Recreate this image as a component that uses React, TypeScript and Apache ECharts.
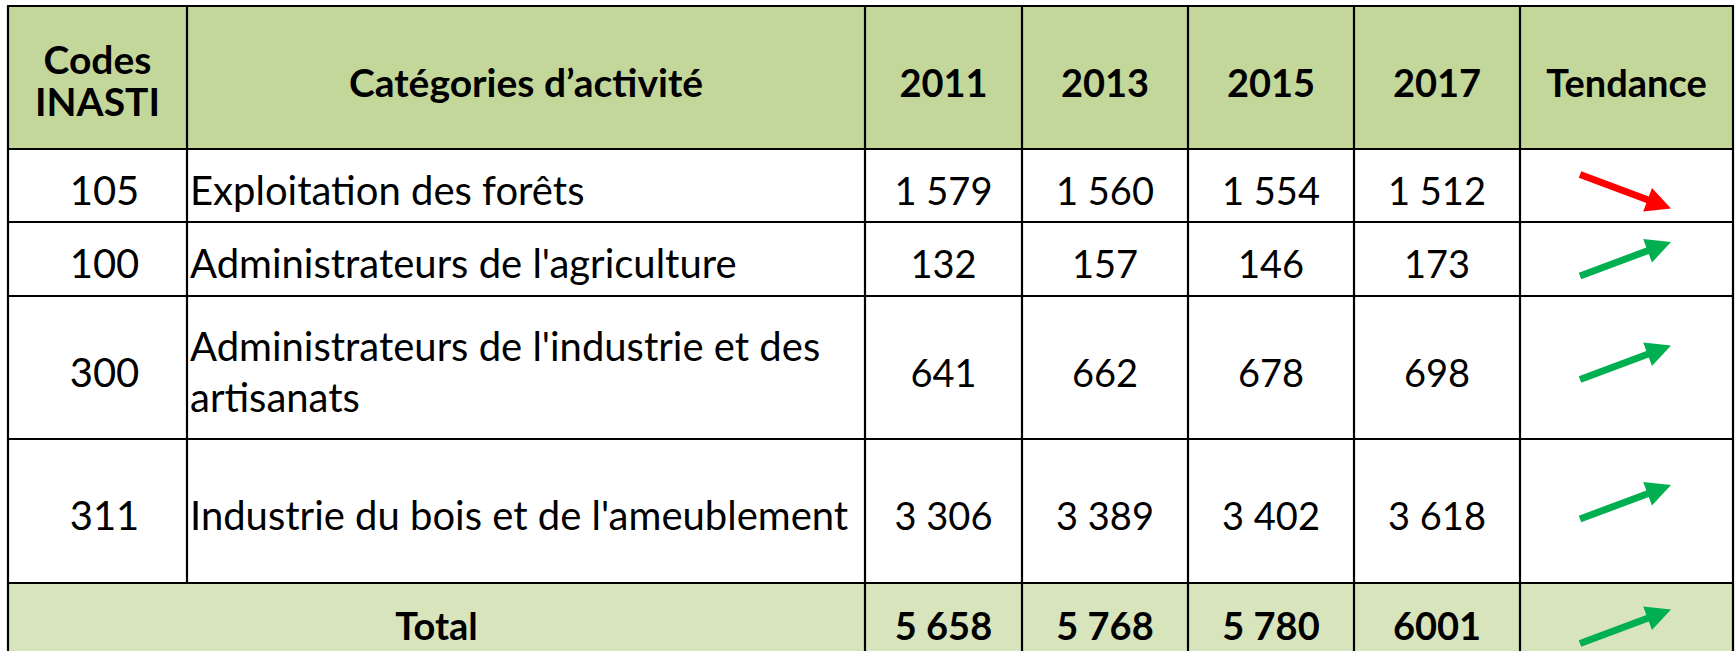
import React, { useEffect, useRef } from "react";
import * as echarts from "echarts";

// ---------- DATA ----------
const headerCode = ["Codes", "INASTI"];
const headerCategory = "Catégories d’activité";
const years = ["2011", "2013", "2015", "2017"];
const headerTrend = "Tendance";
const codes = ["105", "100", "300", "311"];
const categories = [
  "Exploitation des forêts",
  "Administrateurs de l'agriculture",
  "Administrateurs de l'industrie et des artisanats",
  "Industrie du bois et de l'ameublement",
];
const values2011 = [1579, 132, 641, 3306];
const values2013 = [1560, 157, 662, 3389];
const values2015 = [1554, 146, 678, 3402];
const values2017 = [1512, 173, 698, 3618];
const totalLabel = "Total";
const totals = [5658, 5768, 5780, 6001];
// the source prints the last total without a thousands separator
const ungroupedTotalYears = ["2017"];

// ---------- LAYOUT / STYLE ----------
const W = 1735;
const H = 651;
const colX = [8, 187, 865, 1022, 1188, 1354, 1520, 1733];
const rowY = [6, 149, 222, 296, 439, 583, 658];
const HEADER_BG = "#C4D79B";
const TOTAL_BG = "#D8E4BC";
const UP = "#00B050";
const DOWN = "#FF0000";
const FONT = "Lato, Carlito, 'Noto Sans', sans-serif";
const FS = 38;
const FS_TEXT = 40;
const TEXT_DY = 4;
const arrowDy = [6, 0, -5, -9, 6];

function fmt(n: number, group = true): string {
  const s = String(n);
  if (!group) return s;
  return s.replace(/\B(?=(\d{3})+(?!\d))/g, " ");
}

function arrowPoints(x1: number, y1: number, x2: number, y2: number) {
  const shaftW = 7, headL = 25, headW = 12.5;
  const dx = x2 - x1, dy = y2 - y1;
  const len = Math.hypot(dx, dy);
  const ux = dx / len, uy = dy / len;
  const nx = -uy, ny = ux;
  const bx = x2 - ux * headL, by = y2 - uy * headL;
  const h = shaftW / 2;
  return [
    [x1 + nx * h, y1 + ny * h],
    [bx + nx * h, by + ny * h],
    [bx + nx * headW, by + ny * headW],
    [x2, y2],
    [bx - nx * headW, by - ny * headW],
    [bx - nx * h, by - ny * h],
    [x1 - nx * h, y1 - ny * h],
  ];
}

function text(str: string, x: number, y: number, opts: any = {}) {
  const fs = opts.fontSize || FS;
  return {
    type: "text",
    silent: true,
    z: 10,
    style: {
      text: str,
      x,
      y,
      fill: "#000",
      fontFamily: FONT,
      fontSize: fs,
      fontWeight: opts.bold ? "bold" : "normal",
      align: opts.align || "center",
      verticalAlign: "middle",
      lineHeight: opts.lineHeight || fs,
      width: opts.width,
      overflow: opts.width ? "break" : undefined,
    },
  };
}

function buildGraphic() {
  const els: any[] = [];
  const left = colX[0], right = colX[colX.length - 1];
  const cx = (i: number) => (colX[i] + colX[i + 1]) / 2;
  const cy = (r: number) => (rowY[r] + rowY[r + 1]) / 2;

  // backgrounds
  els.push({ type: "rect", silent: true, shape: { x: left, y: rowY[0], width: right - left, height: rowY[1] - rowY[0] }, style: { fill: HEADER_BG } });
  els.push({ type: "rect", silent: true, shape: { x: left, y: rowY[1], width: right - left, height: rowY[5] - rowY[1] }, style: { fill: "#fff" } });
  els.push({ type: "rect", silent: true, shape: { x: left, y: rowY[5], width: right - left, height: rowY[6] - rowY[5] }, style: { fill: TOTAL_BG } });

  // grid lines
  const lineStyle = { stroke: "#000", lineWidth: 2.2 };
  rowY.forEach((y) => {
    els.push({ type: "line", silent: true, z: 5, shape: { x1: left - 1, y1: y, x2: right + 1, y2: y }, style: lineStyle });
  });
  colX.forEach((x, i) => {
    const bottom = i === 1 ? rowY[5] : rowY[6];
    els.push({ type: "line", silent: true, z: 5, shape: { x1: x, y1: rowY[0], x2: x, y2: bottom }, style: lineStyle });
  });

  // header
  els.push(text(headerCode.join("\n"), cx(0), cy(0) + 2, { bold: true, lineHeight: 42, fontSize: 39 }));
  els.push(text(headerCategory, cx(1), cy(0) + TEXT_DY, { bold: true, fontSize: 39 }));
  years.forEach((y, i) => els.push(text(y, cx(2 + i), cy(0) + TEXT_DY, { bold: true })));
  els.push(text(headerTrend, cx(6), cy(0) + TEXT_DY, { bold: true }));

  // body
  const series = [values2011, values2013, values2015, values2017];
  codes.forEach((code, r) => {
    const yc = cy(r + 1) + TEXT_DY;
    els.push(text(code, cx(0) + 7, yc, { fontSize: FS_TEXT }));
    els.push(text(categories[r], colX[1] + 3, yc, { align: "left", width: colX[2] - colX[1] - 6, lineHeight: 51, fontSize: FS_TEXT }));
    series.forEach((vals, i) => els.push(text(fmt(vals[r]), cx(2 + i), yc)));
    const up = series[series.length - 1][r] >= series[0][r];
    addArrow(els, cy(r + 1) + arrowDy[r], up);
  });

  // total
  const yt = cy(5) + TEXT_DY;
  els.push(text(totalLabel, (colX[0] + colX[2]) / 2, yt, { bold: true }));
  totals.forEach((v, i) => els.push(text(fmt(v, !ungroupedTotalYears.includes(years[i])), cx(2 + i), yt, { bold: true })));
  addArrow(els, cy(5) + arrowDy[4], totals[totals.length - 1] >= totals[0]);

  return els;

  function addArrow(list: any[], ymid: number, up: boolean) {
    const x1 = colX[6] + 60, x2 = colX[6] + 151;
    const rise = 17;
    const y1 = up ? ymid + rise : ymid - rise;
    const y2 = up ? ymid - rise : ymid + rise;
    list.push({
      type: "polygon",
      silent: true,
      z: 8,
      shape: { points: arrowPoints(x1, y1, x2, y2) },
      style: { fill: up ? UP : DOWN },
    });
  }
}

export default function App() {
  const ref = useRef<HTMLDivElement>(null);
  useEffect(() => {
    document.body.style.margin = "0";
    if (!ref.current) return;
    const chart = echarts.init(ref.current, null, { renderer: "svg", width: W, height: H });
    chart.setOption({
      animation: false,
      backgroundColor: "#fff",
      graphic: { elements: buildGraphic() },
    });
    return () => chart.dispose();
  }, []);
  return <div ref={ref} style={{ position: "fixed", left: 0, top: 0, width: W, height: H }} />;
}
